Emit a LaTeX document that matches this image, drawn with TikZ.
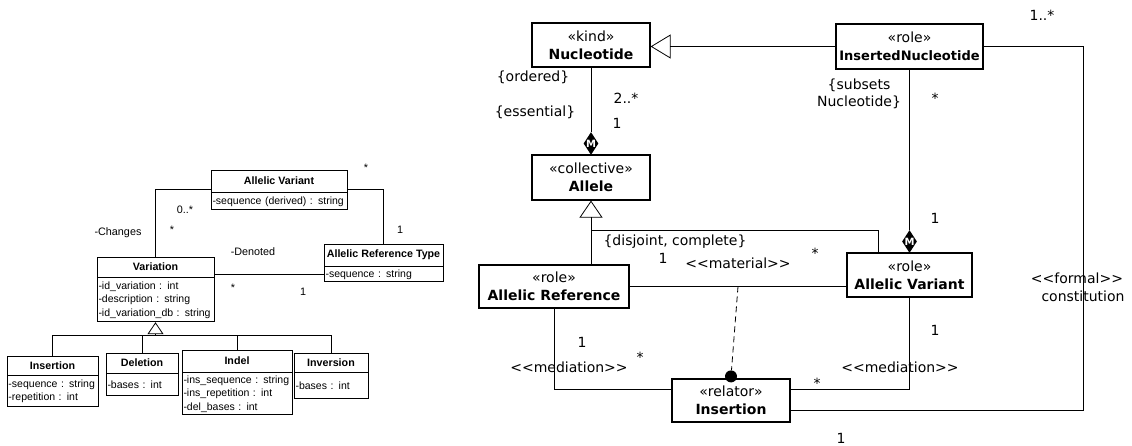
\documentclass[tikz,border=0pt]{standalone}
\usepackage{fontspec}
\setmainfont{DejaVu Sans}
\newfontfamily\lsans{Liberation Sans}
\usetikzlibrary{positioning,shapes.geometric,arrows.meta,calc}

\begin{document}
\begin{tikzpicture}[x=1pt,y=-1pt,
  hdr/.style={draw,line width=0.8,inner sep=1.5,font=\lsans\fontsize{10.7}{13.5}\selectfont\bfseries},
  attr/.style={draw,line width=0.8,inner xsep=1.5,inner ysep=1,align=left,font=\lsans\fontsize{10.5}{13.5}\selectfont},
  lbl/.style={inner sep=0,font=\lsans\fontsize{10.8}{13}\selectfont},
  box/.style={draw,line width=1.2,align=center,inner sep=0,font=\fontsize{14}{18}\selectfont},
  rl/.style={inner sep=0,font=\fontsize{14}{17}\selectfont},
  mdia/.style={diamond,fill=black,inner sep=0,minimum width=15,minimum height=23,
    label={[text=white,inner sep=0,font=\bfseries\fontsize{10}{10}\selectfont]center:M}},
  dot/.style={circle,fill=black,inner sep=0,minimum size=12},
  gen/.style={-{Triangle[open,length=12,width=16]}},
  line width=0.8]
\useasboundingbox (0,0) rectangle (1132,446);

% left: class diagram
\node[hdr,minimum width=136,minimum height=22] (av) at (279,181) {Allelic Variant};
\node[attr,text width=133,minimum height=17,below=0pt of av] (av-a) {-sequence (derived) : string};

\node[hdr,minimum width=117,minimum height=20] (var) at (155.5,267) {Variation};
\node[attr,text width=114,minimum height=44,below=0pt of var] (var-a) {-id\_variation : int\\-description : string\\-id\_variation\_db : string};

\node[hdr,minimum width=119,minimum height=22] (art) at (383.5,255) {Allelic Reference Type};
\node[attr,text width=116,minimum height=15,below=0pt of art] (art-a) {-sequence : string};

\node[hdr,minimum width=91,minimum height=19] (ins) at (52.5,365.5) {Insertion};
\node[attr,text width=88,minimum height=31,below=0pt of ins] (ins-a) {-sequence : string\\-repetition : int};

\node[hdr,minimum width=72,minimum height=20] (del) at (142,363) {Deletion};
\node[attr,text width=69,minimum height=22,below=0pt of del] (del-a) {-bases : int};

\node[hdr,minimum width=110,minimum height=22] (indel) at (237,361) {Indel};
\node[attr,text width=107,minimum height=42,below=0pt of indel] (indel-a) {-ins\_sequence : string\\-ins\_repetition : int\\-del\_bases : int};

\node[hdr,minimum width=74,minimum height=19] (inv) at (331,362.5) {Inversion};
\node[attr,text width=71,minimum height=26,below=0pt of inv] (inv-a) {-bases : int};

\draw (av.west) ++(0,8) -| (var.north);
\draw (av.east) ++(0,8) -| (art.north);
\draw (var.east |- art-a.west) -- (art-a.west);

\coordinate (vg) at ([yshift=-13]var-a.south);
\draw[gen] (vg) -- (var-a.south);
\draw (ins.north) |- (vg) -| (inv.north);
\draw (del.north) -- (del.north |- vg);
\draw (indel.north) -- (indel.north |- vg);

\node[lbl] (l-av1) at (366,168) {*};
\node[lbl] (l-av2) at (185,210) {0..*};
\node[lbl] (l-chg) at (118,233) {-Changes};
\node[lbl] (l-var1) at (172,230) {*};
\node[lbl] (l-art1) at (400,230) {1};
\node[lbl] (l-den) at (253,252) {-Denoted};
\node[lbl] (l-var2) at (233,288) {*};
\node[lbl] (l-art2) at (303,292) {1};

% right: ontology model
\node[box,minimum width=118,minimum height=44] (nuc) at (591,45) {«kind»\\\textbf{Nucleotide}};
\node[box,minimum width=147,minimum height=45] (innuc) at (909.5,46.5) {«role»\\\textbf{\fontsize{13}{18}\selectfont InsertedNucleotide}};
\node[box,minimum width=118,minimum height=45] (allele) at (591,177.5) {«collective»\\\textbf{Allele}};
\node[box,minimum width=150,minimum height=43] (aref) at (554,286.5) {«role»\\\textbf{Allelic Reference}};
\node[box,minimum width=125,minimum height=44] (avar) at (909.5,275) {«role»\\\textbf{Allelic Variant}};
\node[box,minimum width=118,minimum height=43] (rel) at (731,400.5) {«relator»\\\textbf{Insertion}};

\draw[-{Triangle[open,length=20,width=24]}] (innuc.west) -- (innuc.west -| nuc.east);

\node[mdia] (c1) at (591,143.5) {};
\draw (nuc.south) -- (c1.north);
\node[mdia] (c2) at (909.5,241.5) {};
\draw (innuc.south) -- (c2.north);

\coordinate (ag) at (591,230);
\draw[-{Triangle[open,length=17,width=23]}] (ag) -- (allele.south);
\draw (ag) -- (ag |- aref.north);
\draw (ag) -| ($(avar.north west)!0.5!(avar.north)$);

\draw (aref.east) -- (aref.east -| avar.west);
\coordinate (mat) at ($(aref.east)!0.5!(aref.east -| avar.west)$);
\node[dot] (d1) at ([yshift=2]rel.north) {};
\draw[dash pattern=on 6pt off 4pt] (mat) -- (d1);

\draw (aref.south) |- ([yshift=11]rel.west);
\draw (avar.south) |- ([yshift=11]rel.east);
\draw ([yshift=-10]rel.east) -- ++(293,0) |- (innuc.east);

\node[rl] (r-ord) at (533,77) {\{ordered\}};
\node[rl] (r-ess) at (535,112) {\{essential\}};
\node[rl] (r-nuc) at (626,98) {2..*};
\node[rl] (r-all) at (617,123) {1};
\node[rl,align=center] (r-sub) at (859,93.5) {\{subsets\\Nucleotide\}};
\node[rl] (r-in1) at (935,98) {*};
\node[rl] (r-in2) at (1042,15) {1..*};
\node[rl] (r-av1) at (935,218) {1};
\node[rl] (r-dc) at (675,242) {\{disjoint, complete\}};
\node[rl] (r-ar1) at (663,258) {1};
\node[rl] (r-mat) at (738,263) {<\kern0pt<material>\kern0pt>};
\node[rl] (r-av2) at (815,253) {*};
\node[rl] (r-ar2) at (582,342) {1};
\node[rl] (r-med1) at (569,367) {<\kern0pt<mediation>\kern0pt>};
\node[rl] (r-rel1) at (640,357) {*};
\node[rl] (r-av3) at (935,330) {1};
\node[rl] (r-med2) at (900,367) {<\kern0pt<mediation>\kern0pt>};
\node[rl] (r-rel2) at (817,383) {*};
\node[rl] (r-frm) at (1077,278) {<\kern0pt<formal>\kern0pt>};
\node[rl] (r-con) at (1083,296) {constitution};
\node[rl] (r-rel3) at (841,438) {1};

\end{tikzpicture}
\end{document}
